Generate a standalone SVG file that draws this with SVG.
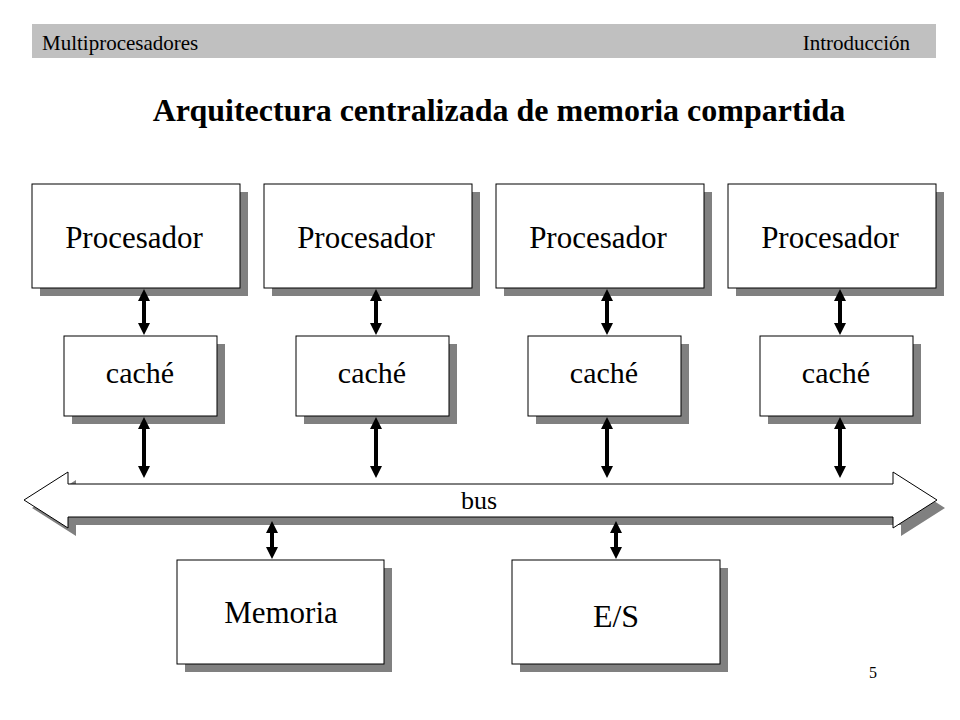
<svg xmlns="http://www.w3.org/2000/svg" width="960" height="720" viewBox="0 0 960 720">
<style>
.sh{fill:#808080}
.bx{fill:#fff;stroke:#000;stroke-width:1}
.t{font-family:"Liberation Serif","Times New Roman",serif;fill:#000;text-anchor:middle}
.lbl{font-size:31px}
.ar{fill:#000}
</style>
<rect width="960" height="720" fill="#fff"/>
<g id="header">
<rect x="32" y="24" width="904" height="34" fill="#c0c0c0"/>
<text x="42" y="50" font-family="Liberation Serif, serif" font-size="21">Multiprocesadores</text>
<text x="910" y="50" font-family="Liberation Serif, serif" font-size="21" text-anchor="end">Introducción</text>
</g>
<text id="title" class="t" x="499" y="121" font-size="32" font-weight="bold">Arquitectura centralizada de memoria compartida</text>

<g id="bus">
<polygon class="sh" transform="translate(8,8)" points="24,500 68,472 68,484 893,484 893,472 937,500 893,528 893,517 68,517 68,528"/>
<polygon class="bx" points="24,500 68,472 68,484 893,484 893,472 937,500 893,528 893,517 68,517 68,528"/>
<text class="t" x="479" y="509" font-size="26">bus</text>
</g>

<g id="proc1"><rect class="sh" x="40" y="192" width="208" height="104"/><rect class="bx" x="32" y="184" width="208" height="104"/><text class="t lbl" x="134" y="248">Procesador</text></g>
<g id="proc2"><rect class="sh" x="272" y="192" width="208" height="104"/><rect class="bx" x="264" y="184" width="208" height="104"/><text class="t lbl" x="366" y="248">Procesador</text></g>
<g id="proc3"><rect class="sh" x="504" y="192" width="208" height="104"/><rect class="bx" x="496" y="184" width="208" height="104"/><text class="t lbl" x="598" y="248">Procesador</text></g>
<g id="proc4"><rect class="sh" x="736" y="192" width="208" height="104"/><rect class="bx" x="728" y="184" width="208" height="104"/><text class="t lbl" x="830" y="248">Procesador</text></g>

<g id="cache1"><rect class="sh" x="72" y="344" width="153" height="80"/><rect class="bx" x="64" y="336" width="153" height="80"/><text class="t" font-size="30" x="140" y="383">caché</text></g>
<g id="cache2"><rect class="sh" x="304" y="344" width="153" height="80"/><rect class="bx" x="296" y="336" width="153" height="80"/><text class="t" font-size="30" x="372" y="383">caché</text></g>
<g id="cache3"><rect class="sh" x="536" y="344" width="153" height="80"/><rect class="bx" x="528" y="336" width="153" height="80"/><text class="t" font-size="30" x="604" y="383">caché</text></g>
<g id="cache4"><rect class="sh" x="768" y="344" width="153" height="80"/><rect class="bx" x="760" y="336" width="153" height="80"/><text class="t" font-size="30" x="836" y="383">caché</text></g>

<g id="memoria"><rect class="sh" x="185" y="568" width="207" height="104"/><rect class="bx" x="177" y="560" width="207" height="104"/><text class="t lbl" x="281" y="623">Memoria</text></g>
<g id="es"><rect class="sh" x="520" y="568" width="208" height="104"/><rect class="bx" x="512" y="560" width="208" height="104"/><text class="t" font-size="32" x="616" y="627">E/S</text></g>

<g id="connectors" class="ar">
<path d="M144,289 l6,12 h-4 v22 h4 l-6,12 l-6,-12 h4 v-22 h-4 z"/>
<path d="M376,289 l6,12 h-4 v22 h4 l-6,12 l-6,-12 h4 v-22 h-4 z"/>
<path d="M607,289 l6,12 h-4 v22 h4 l-6,12 l-6,-12 h4 v-22 h-4 z"/>
<path d="M840,289 l6,12 h-4 v22 h4 l-6,12 l-6,-12 h4 v-22 h-4 z"/>
<path d="M144,417 l6,12 h-4 v37 h4 l-6,12 l-6,-12 h4 v-37 h-4 z"/>
<path d="M376,417 l6,12 h-4 v37 h4 l-6,12 l-6,-12 h4 v-37 h-4 z"/>
<path d="M607,417 l6,12 h-4 v37 h4 l-6,12 l-6,-12 h4 v-37 h-4 z"/>
<path d="M840,417 l6,12 h-4 v37 h4 l-6,12 l-6,-12 h4 v-37 h-4 z"/>
<path d="M272,521 l6,12 h-4 v14 h4 l-6,12 l-6,-12 h4 v-14 h-4 z"/>
<path d="M616,521 l6,12 h-4 v14 h4 l-6,12 l-6,-12 h4 v-14 h-4 z"/>
</g>

<text id="page" x="873" y="678" font-family="Liberation Serif, serif" font-size="16" text-anchor="middle">5</text>
</svg>
